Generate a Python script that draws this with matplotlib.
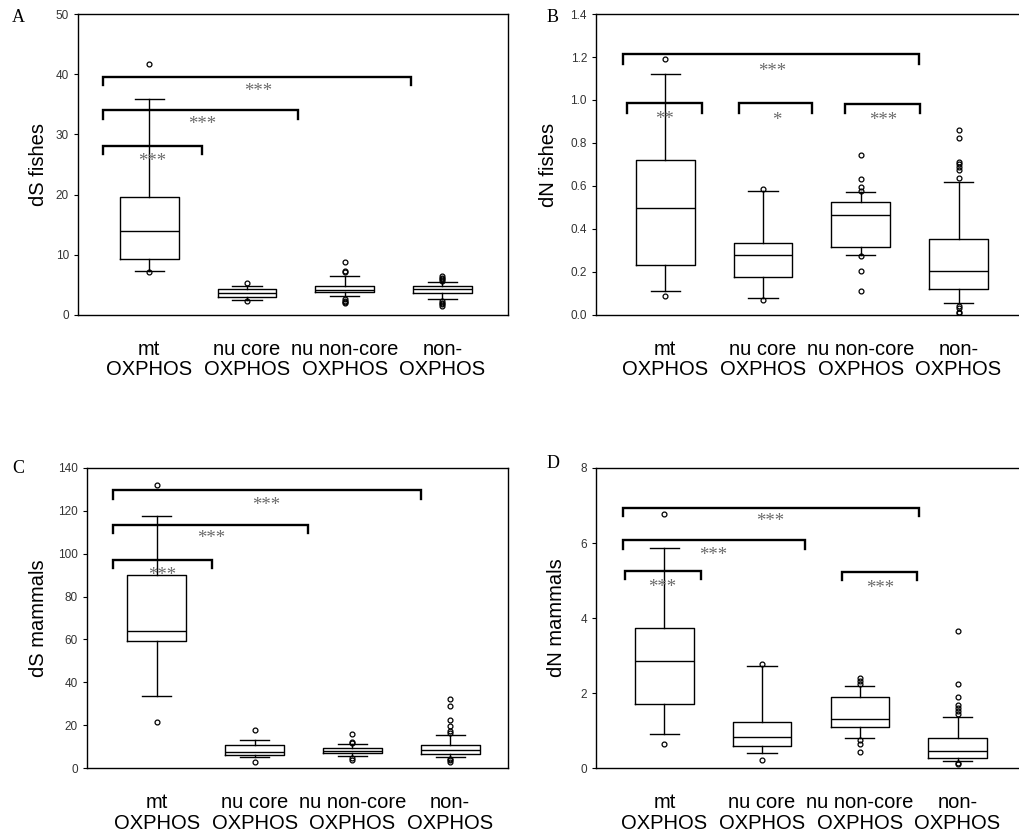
import matplotlib
matplotlib.use('Agg')
import matplotlib.pyplot as plt

groups = ['mt\nOXPHOS', 'nu core\nOXPHOS', 'nu non-core\nOXPHOS', 'non-\nOXPHOS']

# A: dS fishes
dsf_med = [14.0, 3.6, 4.15, 4.26]
dsf_q1 = [9.25, 3.05, 3.77, 3.6]
dsf_q3 = [19.66, 4.37, 4.87, 4.8]
dsf_lo = [7.25, 2.55, 3.1, 2.66]
dsf_hi = [35.9, 4.87, 6.48, 5.43]
dsf_out = [[41.7, 7.1], [5.3, 2.3], [8.8, 7.3, 7.1, 2.6, 2.3, 2.1, 2.0],
           [6.5, 6.2, 5.9, 5.7, 2.3, 2.0, 1.8, 1.5]]
dsf_brackets = [(0.53, 1.54, 28.1, 26.7), (0.53, 2.52, 34.05, 32.6), (0.53, 3.68, 39.6, 38.2)]
dsf_stars = [(1.03, 26.3, '***'), (1.54, 32.5, '***'), (2.11, 37.9, '***')]

# B: dN fishes
dnf_med = [0.498, 0.278, 0.464, 0.206]
dnf_q1 = [0.233, 0.177, 0.316, 0.122]
dnf_q3 = [0.721, 0.335, 0.524, 0.353]
dnf_lo = [0.112, 0.078, 0.278, 0.054]
dnf_hi = [1.121, 0.578, 0.574, 0.620]
dnf_out = [[1.19, 0.087], [0.585, 0.07],
           [0.744, 0.634, 0.597, 0.577, 0.276, 0.206, 0.112],
           [0.860, 0.822, 0.713, 0.702, 0.690, 0.674, 0.639, 0.042, 0.031, 0.015, 0.008]]
dnf_brackets = [(0.57, 3.60, 1.214, 1.167), (0.61, 1.38, 0.984, 0.941),
                (1.75, 2.50, 0.984, 0.941), (2.84, 3.61, 0.98, 0.938)]
dnf_stars = [(2.09, 1.155, '***'), (0.99, 0.930, '**'), (2.14, 0.926, '*'), (3.23, 0.926, '***')]

# C: dS mammals
dsm_med = [64.1, 7.6, 7.8, 8.5]
dsm_q1 = [59.3, 6.05, 7.0, 6.5]
dsm_q3 = [90.0, 10.7, 9.3, 10.9]
dsm_lo = [33.8, 5.1, 5.4, 5.0]
dsm_hi = [117.8, 13.2, 11.2, 15.5]
dsm_out = [[131.9, 21.6], [17.8, 2.8], [15.7, 12.0, 11.5, 4.7, 3.9],
           [32.1, 29.0, 22.2, 19.4, 17.5, 16.3, 4.2, 3.6, 2.8]]
dsm_brackets = [(0.55, 1.56, 97.3, 93.4), (0.55, 2.55, 113.6, 109.7), (0.55, 3.70, 129.9, 125.7)]
dsm_stars = [(1.05, 92.3, '***'), (1.56, 109.4, '***'), (2.12, 124.6, '***')]

# D: dN mammals
dnm_med = [2.86, 0.83, 1.30, 0.46]
dnm_q1 = [1.71, 0.585, 1.09, 0.28]
dnm_q3 = [3.74, 1.22, 1.89, 0.80]
dnm_lo = [0.92, 0.39, 0.80, 0.18]
dnm_hi = [5.87, 2.71, 2.19, 1.35]
dnm_out = [[6.78, 0.63], [2.77, 0.22], [2.39, 2.32, 2.24, 0.74, 0.64, 0.43],
           [3.66, 2.24, 1.89, 1.69, 1.60, 1.51, 1.44, 0.13, 0.11]]
dnm_brackets = [(0.58, 3.61, 6.94, 6.71), (0.58, 2.44, 6.08, 5.85),
                (0.60, 1.37, 5.26, 5.03), (2.82, 3.59, 5.23, 5.01)]
dnm_stars = [(2.08, 6.70, '***'), (1.50, 5.79, '***'), (0.98, 4.95, '***'), (3.21, 4.92, '***')]

plt.rcParams['font.family'] = ['Liberation Sans', 'DejaVu Sans']

fig = plt.figure(figsize=(10.2, 8.39), dpi=100)


def panel(rect, xlim, med, q1, q3, lo, hi, out, brackets, stars,
          ylim, yticks, yfmt, ylabel, lpad, letter, letter_xy):
    ax = fig.add_axes(rect)
    stats = []
    for i in range(4):
        stats.append({'med': med[i], 'q1': q1[i], 'q3': q3[i],
                      'whislo': lo[i], 'whishi': hi[i], 'fliers': out[i]})
    ax.bxp(stats, positions=[1, 2, 3, 4], widths=0.6, showfliers=True,
           boxprops=dict(color='black', linewidth=1),
           medianprops=dict(color='black', linewidth=1),
           whiskerprops=dict(color='black', linewidth=1),
           capprops=dict(color='black', linewidth=1),
           flierprops=dict(marker='o', markersize=3.5, markerfacecolor='none',
                           markeredgecolor='black', markeredgewidth=0.9))
    for x1, x2, ytop, yleg in brackets:
        ax.plot([x1, x1, x2, x2], [yleg, ytop, ytop, yleg], color='black', lw=1.7,
                solid_joinstyle='miter')
    # the star glyph sits high in its box, so nudge it down to where the picture has it
    for x, y, s in stars:
        ax.annotate(s, (x, y), xytext=(0, -3.5), textcoords='offset points',
                    ha='center', va='center', fontsize=13.5, color='#6a6a6a',
                    family='Liberation Serif')
    ax.set_xlim(*xlim)
    ax.set_ylim(*ylim)
    ax.set_yticks(yticks)
    ax.set_yticklabels([yfmt.format(v) for v in yticks], fontsize=8.5, color='#333333')
    ax.set_xticks([1, 2, 3, 4])
    ax.set_xticklabels(groups, fontsize=14.5, linespacing=1.1)
    ax.tick_params(axis='x', length=0, pad=18)
    ax.tick_params(axis='y', direction='out', length=3, width=0.8)
    ax.set_ylabel(ylabel, fontsize=14.5, labelpad=lpad)
    for sp in ax.spines.values():
        sp.set_linewidth(1)
    fig.text(letter_xy[0], letter_xy[1], letter, fontsize=13, family='Liberation Serif',
             ha='left', va='center')
    return ax


panel([0.0765, 0.6246, 0.4215, 0.3587], (0.27, 4.67), dsf_med, dsf_q1, dsf_q3, dsf_lo, dsf_hi,
      dsf_out, dsf_brackets, dsf_stars, (0, 50), [0, 10, 20, 30, 40, 50], '{:.0f}',
      'dS fishes', 5.5, 'A', (0.012, 0.979))
panel([0.5843, 0.6246, 0.4177, 0.3587], (0.29, 4.65), dnf_med, dnf_q1, dnf_q3, dnf_lo, dnf_hi,
      dnf_out, dnf_brackets, dnf_stars, (0, 1.4), [0, 0.2, 0.4, 0.6, 0.8, 1.0, 1.2, 1.4], '{:.1f}',
      'dN fishes', 9, 'B', (0.536, 0.979))
panel([0.0853, 0.0846, 0.4127, 0.3576], (0.287, 4.59), dsm_med, dsm_q1, dsm_q3, dsm_lo, dsm_hi,
      dsm_out, dsm_brackets, dsm_stars, (0, 140), [0, 20, 40, 60, 80, 100, 120, 140], '{:.0f}',
      'dS mammals', 7, 'C', (0.012, 0.442))
panel([0.5843, 0.0846, 0.4177, 0.3576], (0.30, 4.66), dnm_med, dnm_q1, dnm_q3, dnm_lo, dnm_hi,
      dnm_out, dnm_brackets, dnm_stars, (0, 8), [0, 2, 4, 6, 8], '{:.0f}',
      'dN mammals', 10.5, 'D', (0.536, 0.448))

fig.savefig('out.png', dpi=100)
